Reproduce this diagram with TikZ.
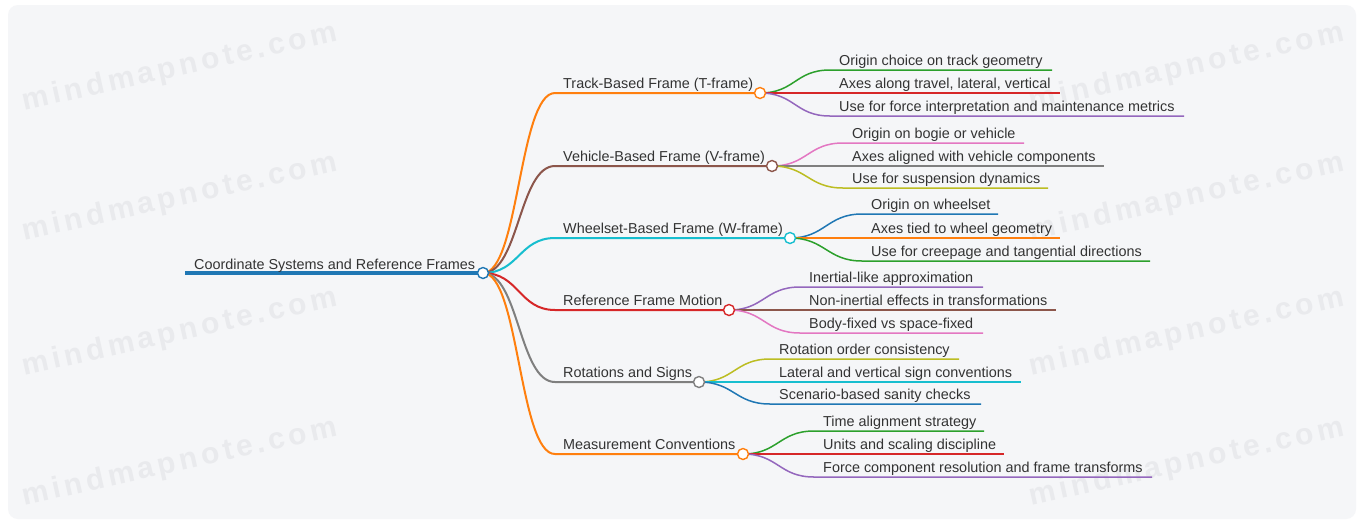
\documentclass[tikz,border=0pt]{standalone}
\usepackage{fontspec}
\setmainfont{Liberation Sans}
\newfontfamily\wmfont[LetterSpace=13]{Liberation Sans}
\definecolor{cblue}{HTML}{1F77B4}
\definecolor{corange}{HTML}{FF7F0E}
\definecolor{cgreen}{HTML}{2CA02C}
\definecolor{cred}{HTML}{D62728}
\definecolor{cpurple}{HTML}{9467BD}
\definecolor{cbrown}{HTML}{8C564B}
\definecolor{cpink}{HTML}{E377C2}
\definecolor{cgray}{HTML}{7F7F7F}
\definecolor{colive}{HTML}{BCBD22}
\definecolor{ccyan}{HTML}{17BECF}
\definecolor{txt}{HTML}{333333}
\definecolor{bg}{HTML}{F5F6F8}
\definecolor{wm}{HTML}{E9EAED}
\tikzset{
  lbl/.style={anchor=base west, font=\fontsize{14.4}{16}\selectfont, text=txt, inner sep=0pt},
  dot/.style={circle, draw=#1, fill=white, line width=1.4pt, minimum size=11pt, inner sep=0pt},
  lone/.style={draw=#1, line width=2pt},
  ltwo/.style={draw=#1, line width=1.5pt},
  wmark/.style={font=\wmfont\fontsize{30}{32}\selectfont\bfseries, text=wm, rotate=12.5, inner sep=0pt},
}
% #1 name, #2 colour, #3 parent centre, #4 line start x, #5 line end x, #6 y, #7 text
\newcommand\mmleaf[7]{%
  \coordinate (#1s) at (#4,#6);
  \coordinate (#1e) at (#5,#6);
  \draw[ltwo=#2] (#3) .. controls +(35,0) and +(-35,0) .. (#1s) -- (#1e);
  \node[lbl] (#1) at (#4+9,#6-4.5) {#7};
}
% #1 name, #2 colour, #3 circle x, #4 y, #5 text
\newcommand\mmbranch[5]{%
  \coordinate (#1s) at (555,#4);
  \coordinate (#1p) at (#3,#4);
  \draw[lone=#2] (rootp) .. controls +(36,0) and +(-36,0) .. (#1s) -- (#1p);
  \node[lbl] (#1) at (563,#4-4.5) {#5};
}
\begin{document}
\begin{tikzpicture}[x=1pt,y=-1pt]
\useasboundingbox (0,0) rectangle (1362,523);
\fill[white] (0,0) rectangle (1362,523);
\fill[bg, rounded corners=10pt] (8,5) rectangle (1356,519);
% watermarks
\foreach \wy [count=\i] in {68,198,333,463}{
  \node[wmark] (wl\i) at (180,\wy) {mindmapnote.com};
  \node[wmark] (wr\i) at (1187,\wy) {mindmapnote.com};
}
% root
\coordinate (roots) at (185,273);
\coordinate (rootp) at (483,273);
\draw[draw=cblue, line width=4pt] (roots) -- (rootp);
\node[lbl] (root) at (194,269) {Coordinate Systems and Reference Frames};
% level 1
\mmbranch{bT}{corange}{760}{93}{Track-Based Frame (T-frame)}
\mmbranch{bV}{cbrown}{772}{166}{Vehicle-Based Frame (V-frame)}
\mmbranch{bW}{ccyan}{790}{238}{Wheelset-Based Frame (W-frame)}
\mmbranch{bR}{cred}{729}{310}{Reference Frame Motion}
\mmbranch{bS}{cgray}{699}{382}{Rotations and Signs}
\mmbranch{bM}{corange}{743}{454}{Measurement Conventions}
% level 2
\mmleaf{t1}{cgreen}{bTp}{830}{1052}{70}{Origin choice on track geometry}
\mmleaf{t2}{cred}{bTp}{830}{1060}{93}{Axes along travel, lateral, vertical}
\mmleaf{t3}{cpurple}{bTp}{830}{1184}{116}{Use for force interpretation and maintenance metrics}
\mmleaf{v1}{cpink}{bVp}{843}{1024}{143}{Origin on bogie or vehicle}
\mmleaf{v2}{cgray}{bVp}{843}{1104}{166}{Axes aligned with vehicle components}
\mmleaf{v3}{colive}{bVp}{843}{1048}{188}{Use for suspension dynamics}
\mmleaf{w1}{cblue}{bWp}{862}{998}{214}{Origin on wheelset}
\mmleaf{w2}{corange}{bWp}{862}{1060}{238}{Axes tied to wheel geometry}
\mmleaf{w3}{cgreen}{bWp}{862}{1150}{261}{Use for creepage and tangential directions}
\mmleaf{r1}{cpurple}{bRp}{800}{983}{287}{Inertial-like approximation}
\mmleaf{r2}{cbrown}{bRp}{800}{1056}{310}{Non-inertial effects in transformations}
\mmleaf{r3}{cpink}{bRp}{800}{983}{333}{Body-fixed vs space-fixed}
\mmleaf{s1}{colive}{bSp}{770}{959}{359}{Rotation order consistency}
\mmleaf{s2}{ccyan}{bSp}{770}{1021}{382}{Lateral and vertical sign conventions}
\mmleaf{s3}{cblue}{bSp}{770}{981}{404}{Scenario-based sanity checks}
\mmleaf{m1}{cgreen}{bMp}{814}{984}{431}{Time alignment strategy}
\mmleaf{m2}{cred}{bMp}{814}{1004}{454}{Units and scaling discipline}
\mmleaf{m3}{cpurple}{bMp}{814}{1152}{477}{Force component resolution and frame transforms}
% circles on top
\node[dot=cblue] (rootc) at (rootp) {};
\node[dot=corange] (bTc) at (bTp) {};
\node[dot=cbrown] (bVc) at (bVp) {};
\node[dot=ccyan] (bWc) at (bWp) {};
\node[dot=cred] (bRc) at (bRp) {};
\node[dot=cgray] (bSc) at (bSp) {};
\node[dot=corange] (bMc) at (bMp) {};
\end{tikzpicture}
\end{document}
